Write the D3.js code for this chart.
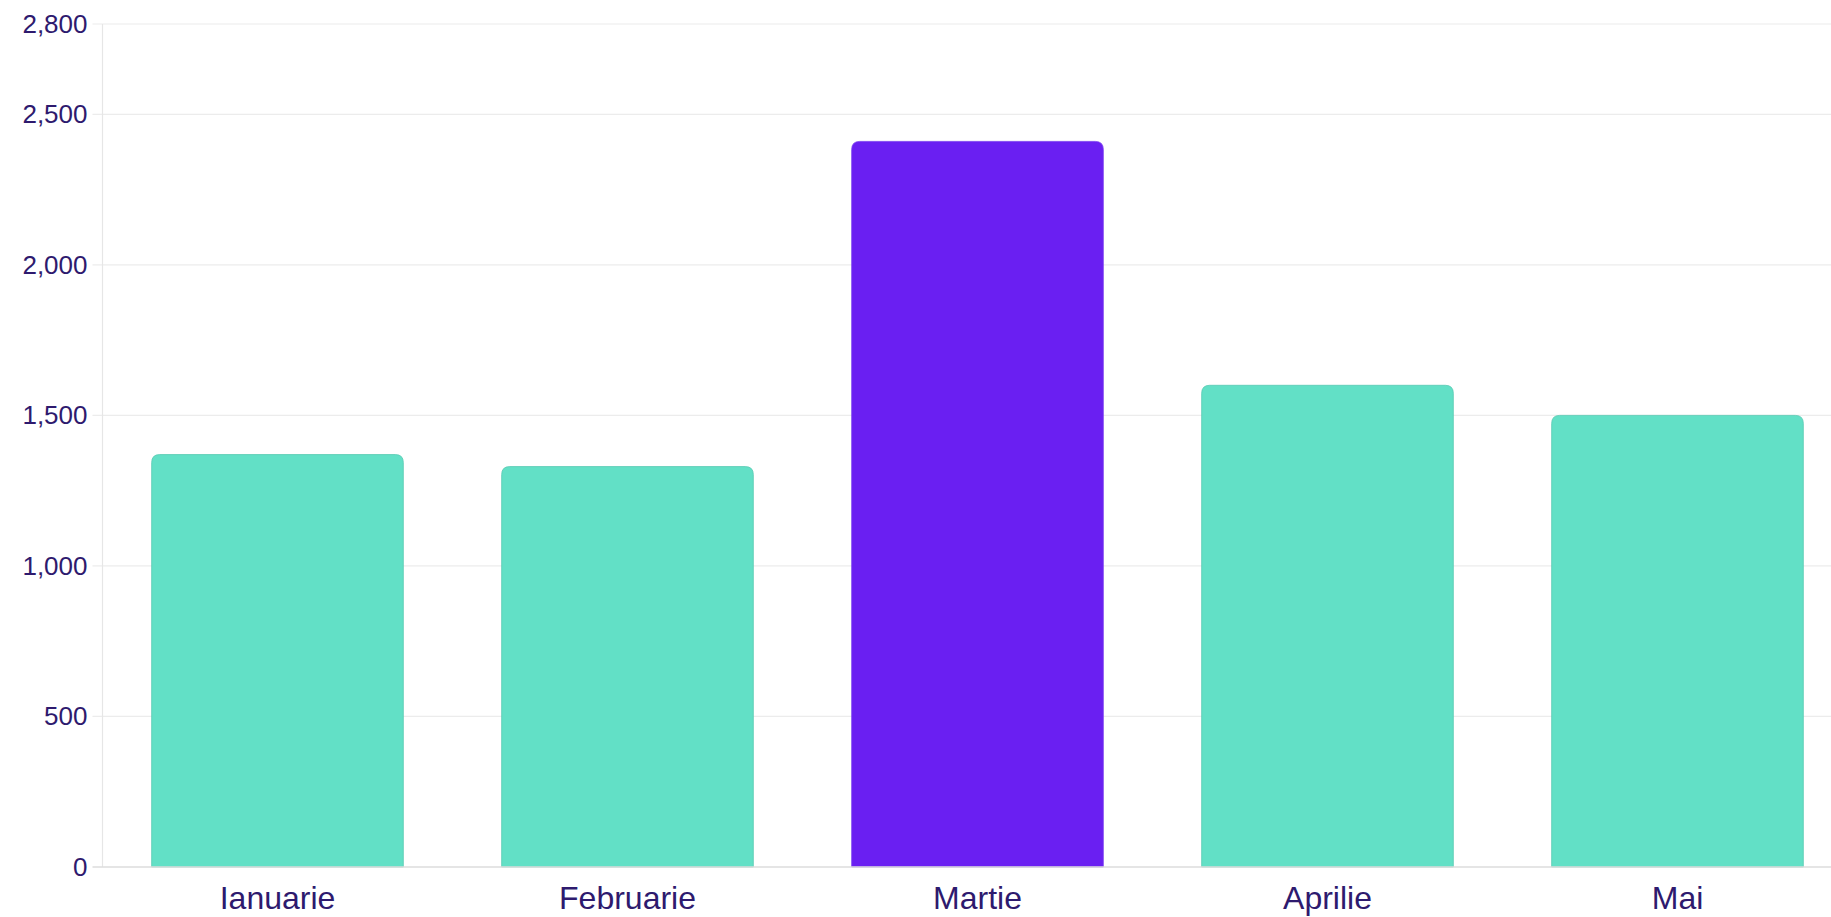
<!DOCTYPE html>
<html>
<head>
<meta charset="utf-8">
<script src="https://cdn.jsdelivr.net/npm/d3@7"></script>
<style>
  body { margin: 0; background: #fff; overflow: hidden; }
  text { font-family: "Liberation Sans", Arial, sans-serif; fill: #2e1a6e; }
</style>
</head>
<body>
<div id="chart"></div>
<script>
/* DATA */
const months = ["Ianuarie", "Februarie", "Martie", "Aprilie", "Mai"];
const values = [1370, 1330, 2410, 1600, 1500];
const highlight = ["Martie"];
const yTicks = [0, 500, 1000, 1500, 2000, 2500, 2800];

/* CONSTANTS */
const width = 1831,
  height = 917,
  margin = { top: 24, bottom: 50, left: 102.5, right: -21.5 },
  radius = 8;

const teal = "#62e0c6",
  purple = "#6a1ff2";

const data = months.map((m, i) => ({ month: m, value: values[i] }));

const svg = d3.select("#chart")
  .append("svg")
  .attr("width", width)
  .attr("height", height);

const xScale = d3.scaleBand()
  .domain(months)
  .range([margin.left, width - margin.right])
  .paddingInner(0.281)
  .paddingOuter(0.1405);

const yScale = d3.scaleLinear()
  .domain([0, 2800])
  .range([height - margin.bottom, margin.top]);

// gridlines
svg.append("g")
  .selectAll("line")
  .data(yTicks.filter(d => d > 0))
  .join("line")
  .attr("x1", margin.left - 10)
  .attr("x2", width)
  .attr("y1", d => yScale(d))
  .attr("y2", d => yScale(d))
  .attr("stroke", "#ececec")
  .attr("stroke-width", 1.2);

// vertical axis line
svg.append("line")
  .attr("x1", margin.left)
  .attr("x2", margin.left)
  .attr("y1", margin.top)
  .attr("y2", yScale(0))
  .attr("stroke", "#e6e6e6")
  .attr("stroke-width", 1.2);

// y labels
const yAxis = d3.axisLeft(yScale)
  .tickValues(yTicks)
  .tickSize(0)
  .tickPadding(15)
  .tickFormat(d3.format(","));

svg.append("g")
  .attr("transform", `translate(${margin.left},0)`)
  .call(yAxis)
  .call(g => g.select(".domain").remove())
  .selectAll("text")
  .attr("font-size", 26)
  .attr("fill", "#2e1a6e");

// bars, rounded at the top only
function barPath(d) {
  const x0 = xScale(d.month),
    x1 = x0 + xScale.bandwidth(),
    y0 = yScale(d.value),
    y1 = yScale(0),
    r = radius;
  return `M${x0},${y1}V${y0 + r}Q${x0},${y0} ${x0 + r},${y0}` +
    `H${x1 - r}Q${x1},${y0} ${x1},${y0 + r}V${y1}Z`;
}

svg.append("g")
  .selectAll("path")
  .data(data)
  .join("path")
  .attr("d", barPath)
  .attr("fill", d => highlight.includes(d.month) ? purple : teal)
  .attr("stroke", d => highlight.includes(d.month) ? "#7a40f0" : "#58c9b2")
  .attr("stroke-width", 0.8);

// bottom baseline
svg.append("line")
  .attr("x1", margin.left - 10)
  .attr("x2", width)
  .attr("y1", yScale(0))
  .attr("y2", yScale(0))
  .attr("stroke", "#dcdcdc")
  .attr("stroke-width", 1.4);

// x labels
const xAxis = d3.axisBottom(xScale).tickSize(0).tickPadding(19);

svg.append("g")
  .attr("transform", `translate(0,${yScale(0)})`)
  .call(xAxis)
  .call(g => g.select(".domain").remove())
  .selectAll("text")
  .attr("font-size", 32)
  .attr("fill", "#2e1a6e");
</script>
</body>
</html>
